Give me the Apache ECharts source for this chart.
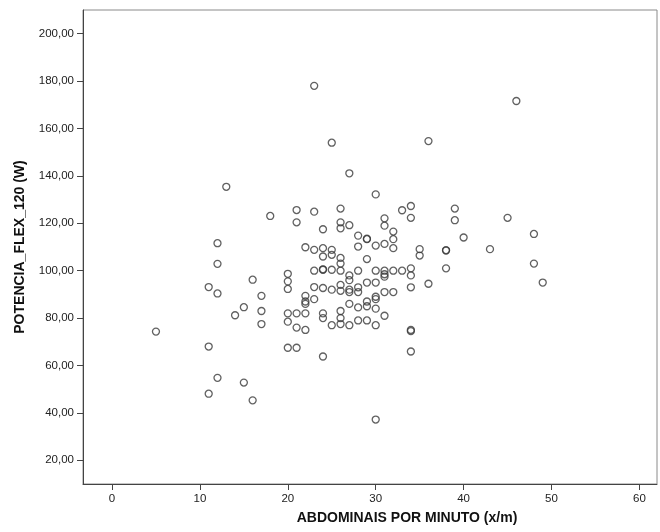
<!DOCTYPE html>
<html>
<head>
<meta charset="utf-8">
<script src="https://cdn.jsdelivr.net/npm/echarts@6/dist/echarts.min.js"></script>
<style>html,body{margin:0;padding:0;background:#fff;}#c{width:660px;height:532px;}</style>
</head>
<body>
<div id="c"></div>
<script>
const xTicks = [0, 10, 20, 30, 40, 50, 60];
const yTicks = [20, 40, 60, 80, 100, 120, 140, 160, 180, 200];
const abdominais = [
  5,
  11, 11, 11,
  12, 12, 12, 12,
  13, 14, 15, 15, 16, 16, 17, 17, 17, 18,
  20, 20, 20, 20, 20, 20,
  21, 21, 21, 21, 21,
  22, 22, 22, 22, 22, 22,
  23, 23, 23, 23, 23, 23,
  24, 24, 24, 24, 24, 24, 24, 24, 24,
  25, 25, 25, 25, 25, 25,
  26, 26, 26, 26, 26, 26, 26, 26, 26, 26, 26,
  27, 27, 27, 27, 27, 27, 27, 27,
  28, 28, 28, 28, 28, 28, 28,
  29, 29, 29, 29, 29, 29, 29,
  30, 30, 30, 30, 30, 30, 30, 30, 30,
  31, 31, 31, 31, 31, 31, 31, 31,
  32, 32, 32, 32, 32,
  33, 33,
  34, 34, 34, 34, 34, 34, 34, 34,
  35, 35, 36, 36,
  38, 38, 38, 39, 39, 40, 43, 45, 46, 48, 48, 49
];
const potencia = [
  74.3,
  93.1, 68.0, 48.1,
  111.6, 102.9, 90.4, 54.8,
  135.4, 81.2, 84.6, 52.8, 96.2, 45.3, 89.4, 83.0, 77.5, 123.1,
  98.7, 95.5, 92.3, 82.0, 78.5, 67.5,
  125.6, 120.4, 82.0, 76.0, 67.5,
  109.9, 89.4, 87.0, 86.0, 82.0, 75.0,
  178.0, 124.9, 108.8, 100.0, 93.1, 88.0,
  117.5, 109.5, 106.0, 100.4, 100.6, 92.7, 82.0, 80.0, 63.8,
  154.0, 108.8, 106.7, 100.4, 92.0, 77.0,
  126.2, 120.4, 117.9, 105.4, 103.0, 100.0, 94.0, 91.5, 83.0, 80.0, 77.5,
  141.1, 119.2, 98.0, 96.0, 92.0, 91.0, 86.0, 77.0,
  114.8, 110.2, 100.0, 93.0, 91.0, 84.5, 79.0,
  113.3, 113.5, 104.9, 95.0, 87.0, 85.0, 79.0,
  132.2, 110.6, 100.0, 95.0, 89.0, 88.0, 84.0, 77.0, 37.2,
  122.1, 119.0, 111.3, 100.0, 98.5, 97.5, 91.0, 81.0,
  116.5, 113.3, 109.5, 100.0, 91.0,
  125.5, 100.0,
  127.3, 122.3, 101.0, 98.0, 93.0, 75.0, 74.5, 65.9,
  109.1, 106.4, 154.7, 94.5,
  108.5, 108.7, 101.0, 126.2, 121.3, 114.0, 109.1, 122.3, 171.6, 115.5, 103.0, 95.0
];
const points = abdominais.map((x, i) => [x, potencia[i]]);
const fmt = v => v.toFixed(2).replace('.', ',');
const font = 'Liberation Sans, Arial, sans-serif';

const chart = echarts.init(document.getElementById('c'), null, {renderer: 'canvas'});
chart.setOption({
  animation: false,
  backgroundColor: '#fff',
  grid: {left: 83, right: 3, top: 10, bottom: 48, show: true, borderColor: '#8a8a8a', borderWidth: 1, backgroundColor: 'transparent'},
  xAxis: {
    type: 'value', min: -3.3, max: 62,
    name: 'ABDOMINAIS POR MINUTO (x/m)', nameLocation: 'middle', nameGap: 27,
    nameTextStyle: {fontFamily: font, fontSize: 14, fontWeight: 'bold', color: '#111', padding: [0, 0, 0, 74]},
    axisLine: {show: true, onZero: false, lineStyle: {color: '#444', width: 1}},
    axisTick: {show: true, length: 6, inside: false, customValues: xTicks, lineStyle: {color: '#444'}},
    axisLabel: {customValues: xTicks, margin: 9, fontFamily: font, fontSize: 11.5, color: '#222', formatter: v => String(v)},
    splitLine: {show: false}
  },
  yAxis: {
    type: 'value', min: 10, max: 210,
    name: 'POTENCIA_FLEX_120 (W)', nameLocation: 'middle', nameGap: 56, nameRotate: 90,
    nameTextStyle: {fontFamily: font, fontSize: 14, fontWeight: 'bold', color: '#111'},
    axisLine: {show: true, onZero: false, lineStyle: {color: '#444', width: 1}},
    axisTick: {show: true, length: 6, inside: false, customValues: yTicks, lineStyle: {color: '#444'}},
    axisLabel: {customValues: yTicks, margin: 9, fontFamily: font, fontSize: 11.5, color: '#222', formatter: v => fmt(v)},
    splitLine: {show: false}
  },
  series: [{
    type: 'scatter',
    data: points,
    symbol: 'circle',
    symbolSize: 7,
    itemStyle: {color: 'rgba(255,255,255,0)', borderColor: '#3a3a3a', borderWidth: 1.3},
    emphasis: {disabled: true}
  }]
});
</script>
</body>
</html>
